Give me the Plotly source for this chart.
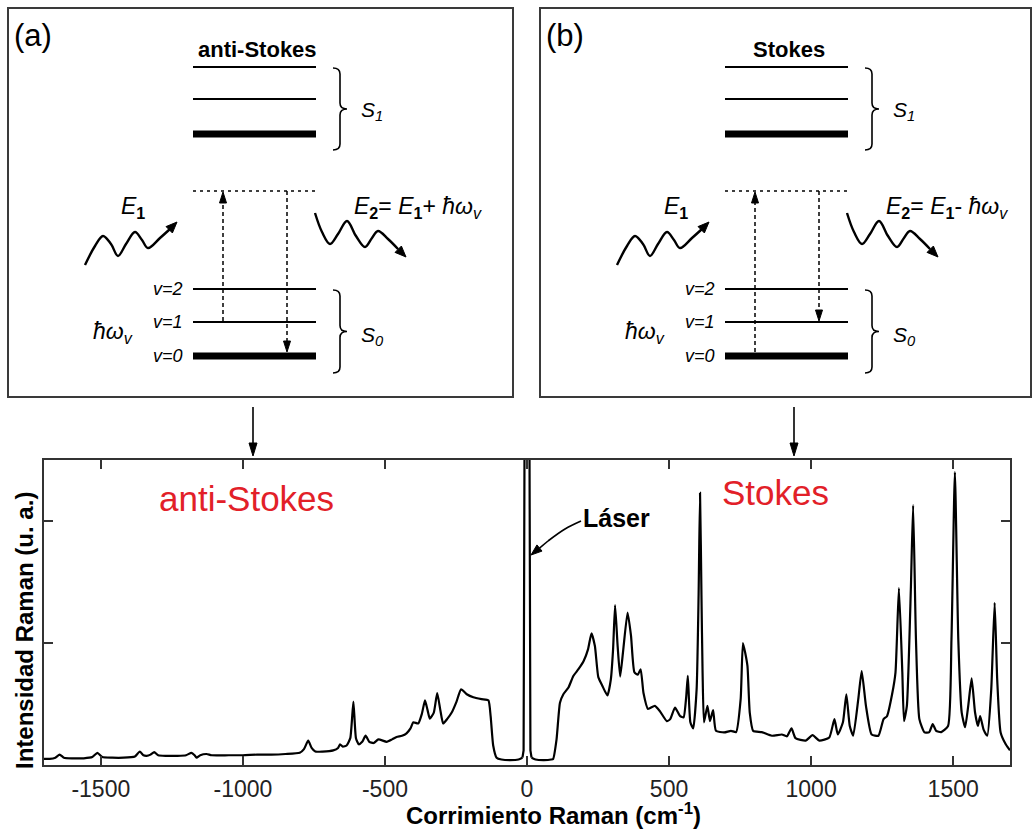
import math
import plotly.graph_objects as go

# ---------------- spectrum data (Raman shift in cm^-1, intensity in a.u.) ----------------
anti_shift = [-1700, -1680, -1660, -1645, -1630, -1600, -1560, -1530, -1512, -1495, -1460,
              -1420, -1380, -1363, -1350, -1339, -1325, -1312, -1298, -1270, -1230, -1200,
              -1181, -1170, -1163, -1150, -1128, -1110, -1050, -1000, -950, -900, -850, -800,
              -785, -770, -758, -745, -720, -682, -665, -658, -648, -635, -622, -611, -602,
              -592, -580, -568, -555, -540, -523, -494, -475, -459, -440, -424, -410, -400,
              -383, -370, -359, -350, -342, -328, -316, -305, -295, -280, -265, -248, -232,
              -212, -189, -160, -136, -128, -119, -107, -90, -60, -30, -16]
anti_int = [0.05, 0.05, 0.06, 0.085, 0.06, 0.055, 0.055, 0.065, 0.10, 0.065, 0.06,
            0.06, 0.07, 0.11, 0.08, 0.075, 0.085, 0.105, 0.08, 0.075, 0.075, 0.08,
            0.10, 0.08, 0.06, 0.08, 0.09, 0.08, 0.08, 0.08, 0.085, 0.085, 0.09, 0.10,
            0.13, 0.20, 0.14, 0.11, 0.11, 0.12, 0.14, 0.17, 0.15, 0.16, 0.22, 0.52, 0.22,
            0.17, 0.19, 0.24, 0.19, 0.18, 0.21, 0.19, 0.21, 0.23, 0.24, 0.26, 0.30, 0.35,
            0.34, 0.42, 0.53, 0.45, 0.38, 0.43, 0.59, 0.45, 0.34, 0.38, 0.43, 0.52, 0.62,
            0.58, 0.555, 0.54, 0.53, 0.40, 0.16, 0.06, 0.045, 0.04, 0.045, 0.06]

laser_shift = [-16, -12, -8, 8, 12, 16]
laser_int = [0.06, 0.12, 3.2, 3.2, 0.12, 0.06]

stokes_shift = [16, 30, 60, 85, 92, 104, 116, 128, 146, 163, 181, 199, 215, 227, 239, 251,
                265, 283, 295, 303, 310, 319, 328, 339, 354, 366, 378, 390, 400, 410, 426,
                450, 468, 492, 504, 521, 539, 551, 560, 566, 575, 585, 597, 604, 609, 614,
                618, 623, 635, 644, 655, 665, 694, 718, 736, 752, 760, 768, 776, 784, 796,
                826, 862, 897, 915, 931, 945, 981, 1005, 1029, 1064, 1082, 1094, 1112, 1124,
                1136, 1148, 1166, 1178, 1193, 1213, 1237, 1255, 1267, 1285, 1297, 1309, 1321,
                1327, 1337, 1351, 1359, 1369, 1381, 1399, 1416, 1428, 1440, 1458, 1482, 1494,
                1506, 1518, 1530, 1542, 1553, 1565, 1577, 1587, 1595, 1607, 1620, 1634, 1646,
                1655, 1667, 1685, 1700]
stokes_int = [0.06, 0.045, 0.04, 0.045, 0.05, 0.21, 0.51, 0.58, 0.635, 0.73, 0.785, 0.85,
              0.95, 1.08, 0.975, 0.72, 0.65, 0.57, 0.70, 0.95, 1.31, 0.975, 0.725, 0.95,
              1.25, 1.06, 0.76, 0.74, 0.785, 0.59, 0.46, 0.485, 0.44, 0.36, 0.376, 0.47,
              0.40, 0.39, 0.55, 0.73, 0.35, 0.30, 0.62, 1.4, 2.23, 1.4, 0.76, 0.35, 0.485,
              0.36, 0.45, 0.28, 0.267, 0.28, 0.27, 0.54, 1.0, 0.92, 0.81, 0.43, 0.28, 0.27,
              0.24, 0.25, 0.235, 0.30, 0.22, 0.20, 0.245, 0.20, 0.226, 0.376, 0.25, 0.35,
              0.58, 0.32, 0.24, 0.54, 0.77, 0.485, 0.25, 0.24, 0.376, 0.40, 0.58, 0.76, 1.45,
              0.76, 0.36, 0.485, 1.44, 2.13, 1.03, 0.376, 0.267, 0.27, 0.335, 0.28, 0.27,
              0.32, 1.03, 2.40, 1.03, 0.43, 0.31, 0.485, 0.71, 0.43, 0.32, 0.40, 0.29, 0.24,
              0.62, 1.33, 0.70, 0.267, 0.17, 0.12]

x_ticks = [-1500, -1000, -500, 0, 500, 1000, 1500]
x_tick_text = ["-1500", "-1000", "-500", "0", "500", "1000", "1500"]
y_ticks = [1, 2]

W, H = 1034, 831
FONT = "Liberation Sans, Arial, Helvetica, sans-serif"
RED = "rgb(226, 32, 40)"

fig = go.Figure()
# Raman bands are smoothed; the laser line stays straight so it does not bulge
for xs, ys, shape in [(anti_shift, anti_int, "spline"),
                      (laser_shift, laser_int, "linear"),
                      (stokes_shift, stokes_int, "spline")]:
    fig.add_trace(go.Scatter(x=xs, y=ys, mode="lines",
                             line=dict(color="black", width=2.2, shape=shape,
                                       smoothing=0.5 if shape == "spline" else None),
                             hoverinfo="skip", showlegend=False))

shapes = []
annotations = []


def seg(x0, y0, x1, y1, width=2, dash=None, color="black"):
    shapes.append(dict(type="line", xref="x2", yref="y2", x0=x0, y0=y0, x1=x1, y1=y1,
                       line=dict(color=color, width=width, dash=dash)))


def head(x_tail, y_tail, x_tip, y_tip, width=1.6, length=12, spread=8):
    """Solid shaft from tail to a filled triangular arrowhead at the tip."""
    dx, dy = x_tip - x_tail, y_tip - y_tail
    n = math.hypot(dx, dy)
    ux, uy = dx / n, dy / n
    bx, by = x_tip - length * ux, y_tip - length * uy
    px, py = -uy * spread / 2, ux * spread / 2
    if n > length:
        seg(x_tail, y_tail, bx, by, width)
    path = (f"M {x_tip},{y_tip} L {bx + px},{by + py} L {bx - px},{by - py} Z")
    shapes.append(dict(type="path", xref="x2", yref="y2", path=path,
                       fillcolor="black", line=dict(color="black", width=1)))


def label(x, y, text, size, xanchor="center", color="black"):
    annotations.append(dict(xref="x2", yref="y2", x=x, y=y, text=text, showarrow=False,
                            xanchor=xanchor, yanchor="middle",
                            font=dict(family=FONT, size=size, color=color)))


def brace(x0, y_top, y_bot, w=14):
    xm = x0 + w / 2
    ym = (y_top + y_bot) / 2
    r = 6
    path = (f"M {x0},{y_top} Q {xm},{y_top} {xm},{y_top + r} L {xm},{ym - r} "
            f"Q {xm},{ym} {x0 + w},{ym} Q {xm},{ym} {xm},{ym + r} "
            f"L {xm},{y_bot - r} Q {xm},{y_bot} {x0},{y_bot}")
    shapes.append(dict(type="path", xref="x2", yref="y2", path=path,
                       line=dict(color="black", width=1.6)))


def photon(points, color="black"):
    xs = [p[0] for p in points]
    ys = [p[1] for p in points]
    fig.add_trace(go.Scatter(x=xs, y=ys, xaxis="x2", yaxis="y2", mode="lines",
                             line=dict(color=color, width=2.4, shape="spline", smoothing=1.0),
                             hoverinfo="skip", showlegend=False))


# energy-level diagram for one scattering process
def panel(dx, tag, title, sign, up_from, down_to, e1_x):
    # frame
    shapes.append(dict(type="rect", xref="x2", yref="y2", x0=8 + dx, y0=8,
                       x1=513 + dx if dx == 0 else 1031, y1=397,
                       line=dict(color="#3a3a3a", width=2)))
    label(12 + dx, 35, tag, 31, xanchor="left")
    label(257 + dx, 49, f"<b>{title}</b>", 22)

    xl, xr = 193 + dx, 316 + dx
    # S1 manifold
    seg(xl, 67, xr, 67, 2.2)
    seg(xl, 99, xr, 99, 2.2)
    seg(xl, 134, xr, 134, 7)
    brace(333 + dx, 68, 150)
    label(359 + dx, 111, "<i>S<sub>1</sub></i>", 21, xanchor="left")

    # S0 manifold
    levels = {2: 289, 1: 322, 0: 356}
    seg(xl, levels[2], xr, levels[2], 2.2)
    seg(xl, levels[1], xr, levels[1], 2.2)
    seg(xl, levels[0], xr, levels[0], 7)
    for v, yv in levels.items():
        label(185 + dx, yv, f"<i>v={v}</i>", 18, xanchor="right")
    brace(333 + dx, 290, 373)
    label(359 + dx, 336, "<i>S<sub>0</sub></i>", 21, xanchor="left")
    label(91 + dx, 332, "<i>ħω<sub>v</sub></i>", 23, xanchor="left")

    # virtual level
    seg(xl, 191, xr, 191, 1.5, dash="3px,4px")

    # excitation (up) and scattering (down) transitions
    xu = 223 + dx
    y_start = levels[up_from] - (4 if up_from == 0 else 1)
    seg(xu, y_start, xu, 203, 1.5, dash="4px,3px")
    head(xu, 203, xu, 192, length=11, spread=7)
    xd = 287 + dx
    y_end = levels[down_to] - (4 if down_to == 0 else 1)
    seg(xd, 191, xd, y_end - 11, 1.5, dash="4px,3px")
    head(xd, y_end - 11, xd, y_end, length=11, spread=7)

    # photons
    label(e1_x, 207, "<i>E</i><sub><b>1</b></sub>", 23, xanchor="left")
    label(352 + dx, 207,
          f"<i>E</i><sub><b>2</b></sub>= <i>E</i><sub><b>1</b></sub>{sign} <i>ħω<sub>v</sub></i>",
          23, xanchor="left")
    photon([(85 + dx, 265), (95 + dx, 246), (103 + dx, 236), (111 + dx, 244), (118 + dx, 256),
            (126 + dx, 244), (135 + dx, 232), (142 + dx, 240), (148 + dx, 248),
            (160 + dx, 238), (170 + dx, 229)])
    head(168 + dx, 231, 177 + dx, 222, length=11, spread=9)
    photon([(315 + dx, 213), (322 + dx, 232), (330 + dx, 244), (338 + dx, 234),
            (347 + dx, 221), (356 + dx, 236), (365 + dx, 247), (372 + dx, 238),
            (378 + dx, 231), (388 + dx, 239), (398 + dx, 249)])
    head(396 + dx, 247, 406 + dx, 257, length=11, spread=9)


panel(0, "(a)", "anti-Stokes", "+", up_from=1, down_to=0, e1_x=119)
panel(532, "(b)", "Stokes", "-", up_from=0, down_to=1, e1_x=662)

# arrows leading from the diagrams down to the spectrum
head(253, 407, 253, 456, length=13, spread=8)
head(794, 407, 794, 456, length=13, spread=8)

# spectrum labels
label(246, 498, "anti-Stokes", 35, color=RED)
label(775, 492, "Stokes", 35, color=RED)
label(581, 518, "<b>Láser</b>", 25, xanchor="left")
fig.add_trace(go.Scatter(x=[581, 565, 548], y=[521, 529, 541], xaxis="x2", yaxis="y2",
                         mode="lines", line=dict(color="black", width=1.6, shape="spline"),
                         hoverinfo="skip", showlegend=False))
head(548, 541, 531, 555, length=11, spread=8)

# axis titles
annotations.append(dict(xref="x2", yref="y2", x=553, y=831,
                        text="<b>Corrimiento Raman (cm<sup>-1</sup>)</b>",
                        showarrow=False, xanchor="center", yanchor="bottom",
                        font=dict(family=FONT, size=24, color="black")))
annotations.append(dict(xref="x2", yref="y2", x=24, y=631, text="<b>Intensidad Raman (u. a.)</b>",
                        showarrow=False, textangle=-90, xanchor="center", yanchor="middle",
                        font=dict(family=FONT, size=24, color="black")))

# pixel-unit canvas axes used for the diagrams (no ticks, no labels)
canvas_axis = dict(domain=[0, 1], visible=False, fixedrange=True, showticklabels=False,
                   ticks="", tickvals=[], showgrid=False, zeroline=False)

x0_px, x1_px, y_top_px, y_bot_px = 44, 1010, 460, 765
fig.update_layout(
    width=W, height=H, autosize=False,
    margin=dict(l=0, r=0, t=0, b=0),
    paper_bgcolor="white", plot_bgcolor="rgba(0,0,0,0)",
    showlegend=False,
    xaxis=dict(domain=[x0_px / W, x1_px / W], range=[-1700, 1700],
               tickvals=x_ticks, ticktext=x_tick_text, ticks="inside", ticklen=9,
               tickwidth=1.5, tickcolor="#333", showline=True, linecolor="#333",
               linewidth=2, mirror="ticks", showgrid=False, zeroline=False,
               ticklabelstandoff=2,
               tickfont=dict(family=FONT, size=23, color="#222"), fixedrange=True),
    yaxis=dict(domain=[1 - y_bot_px / H, 1 - y_top_px / H], range=[0, 2.5],
               tickvals=y_ticks, showticklabels=False, ticks="inside", ticklen=9,
               tickwidth=1.5, tickcolor="#333", showline=True, linecolor="#333",
               linewidth=2, mirror="ticks", showgrid=False, zeroline=False,
               fixedrange=True),
    xaxis2=dict(canvas_axis, range=[0, W], anchor="y2"),
    yaxis2=dict(canvas_axis, range=[H, 0], anchor="x2"),
    shapes=shapes,
    annotations=annotations,
)

fig.write_html("out.html")
